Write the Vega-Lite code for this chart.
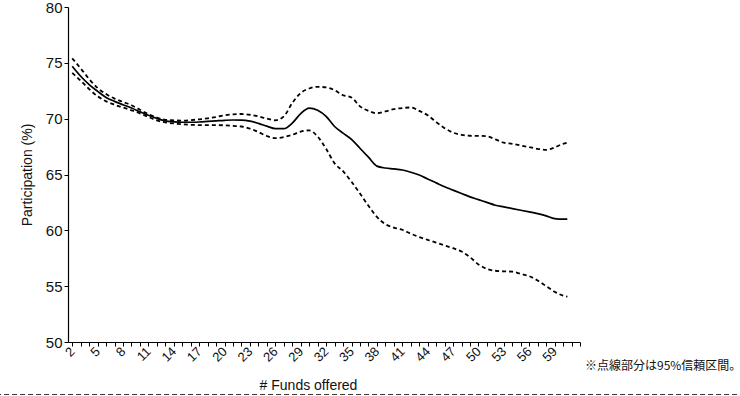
{
  "$schema": "https://vega.github.io/schema/vega-lite/v6.json",
  "width": 512,
  "height": 335,
  "autosize": {"type": "none"},
  "padding": {"left": 68, "top": 7, "right": 160, "bottom": 54},
  "background": "white",
  "config": {
    "view": {"stroke": null},
    "font": "Liberation Sans",
    "axis": {"domainColor": "#000", "tickColor": "#000", "labelColor": "#111", "titleColor": "#111", "grid": false, "labelFont": "Liberation Sans", "titleFont": "Liberation Sans", "titleFontWeight": "normal"}
  },
  "data": {
    "values": [
      {"n": 2, "est": 74.7, "lo": 74.1, "hi": 75.4},
      {"n": 3, "est": 73.8, "lo": 73.4, "hi": 74.5},
      {"n": 4, "est": 73.05, "lo": 72.65, "hi": 73.55},
      {"n": 5, "est": 72.45, "lo": 72.0, "hi": 72.75},
      {"n": 6, "est": 71.9, "lo": 71.55, "hi": 72.2},
      {"n": 7, "est": 71.55, "lo": 71.25, "hi": 71.8},
      {"n": 8, "est": 71.25, "lo": 71.0, "hi": 71.5},
      {"n": 9, "est": 70.95, "lo": 70.75, "hi": 71.2},
      {"n": 10, "est": 70.62, "lo": 70.48, "hi": 70.8},
      {"n": 11, "est": 70.3, "lo": 70.15, "hi": 70.4},
      {"n": 12, "est": 70.02, "lo": 69.85, "hi": 70.1},
      {"n": 13, "est": 69.8, "lo": 69.67, "hi": 69.9},
      {"n": 14, "est": 69.72, "lo": 69.57, "hi": 69.85},
      {"n": 15, "est": 69.68, "lo": 69.5, "hi": 69.82},
      {"n": 16, "est": 69.68, "lo": 69.45, "hi": 69.87},
      {"n": 17, "est": 69.7, "lo": 69.43, "hi": 69.94},
      {"n": 18, "est": 69.75, "lo": 69.43, "hi": 70.03},
      {"n": 19, "est": 69.8, "lo": 69.43, "hi": 70.15},
      {"n": 20, "est": 69.85, "lo": 69.4, "hi": 70.3},
      {"n": 21, "est": 69.88, "lo": 69.35, "hi": 70.38},
      {"n": 22, "est": 69.87, "lo": 69.3, "hi": 70.42},
      {"n": 23, "est": 69.78, "lo": 69.1, "hi": 70.35},
      {"n": 24, "est": 69.58, "lo": 68.8, "hi": 70.2},
      {"n": 25, "est": 69.33, "lo": 68.45, "hi": 70.0},
      {"n": 26, "est": 69.1, "lo": 68.25, "hi": 69.85},
      {"n": 27, "est": 69.1, "lo": 68.35, "hi": 70.2},
      {"n": 28, "est": 69.6, "lo": 68.55, "hi": 71.4},
      {"n": 29, "est": 70.45, "lo": 68.85, "hi": 72.3},
      {"n": 30, "est": 70.95, "lo": 68.95, "hi": 72.7},
      {"n": 31, "est": 70.75, "lo": 68.4, "hi": 72.85},
      {"n": 32, "est": 70.2, "lo": 67.3, "hi": 72.8},
      {"n": 33, "est": 69.3, "lo": 66.0, "hi": 72.55},
      {"n": 34, "est": 68.7, "lo": 65.3, "hi": 72.1},
      {"n": 35, "est": 68.15, "lo": 64.35, "hi": 71.9},
      {"n": 36, "est": 67.35, "lo": 63.3, "hi": 71.1},
      {"n": 37, "est": 66.55, "lo": 62.2, "hi": 70.7},
      {"n": 38, "est": 65.75, "lo": 61.2, "hi": 70.48},
      {"n": 39, "est": 65.58, "lo": 60.55, "hi": 70.65},
      {"n": 40, "est": 65.5, "lo": 60.25, "hi": 70.85},
      {"n": 41, "est": 65.4, "lo": 60.05, "hi": 70.95},
      {"n": 42, "est": 65.2, "lo": 59.7, "hi": 71.0},
      {"n": 43, "est": 64.95, "lo": 59.4, "hi": 70.7},
      {"n": 44, "est": 64.6, "lo": 59.15, "hi": 70.3},
      {"n": 45, "est": 64.25, "lo": 58.9, "hi": 69.7},
      {"n": 46, "est": 63.9, "lo": 58.65, "hi": 69.15},
      {"n": 47, "est": 63.6, "lo": 58.4, "hi": 68.75},
      {"n": 48, "est": 63.3, "lo": 58.1, "hi": 68.55},
      {"n": 49, "est": 63.0, "lo": 57.6, "hi": 68.47},
      {"n": 50, "est": 62.75, "lo": 56.95, "hi": 68.46},
      {"n": 51, "est": 62.5, "lo": 56.55, "hi": 68.42},
      {"n": 52, "est": 62.25, "lo": 56.38, "hi": 68.15},
      {"n": 53, "est": 62.1, "lo": 56.33, "hi": 67.85},
      {"n": 54, "est": 61.95, "lo": 56.3, "hi": 67.75},
      {"n": 55, "est": 61.8, "lo": 56.1, "hi": 67.6},
      {"n": 56, "est": 61.65, "lo": 55.9, "hi": 67.45},
      {"n": 57, "est": 61.5, "lo": 55.5, "hi": 67.3},
      {"n": 58, "est": 61.3, "lo": 55.0, "hi": 67.2},
      {"n": 59, "est": 61.05, "lo": 54.5, "hi": 67.42},
      {"n": 60, "est": 61.0, "lo": 54.15, "hi": 67.75},
      {"n": 60.5, "est": 61.0, "lo": 54.05, "hi": 67.85}
    ]
  },
  "layer": [
    {
      "mark": {"type": "line", "color": "#000", "strokeWidth": 1.8, "strokeDash": [4, 3], "interpolate": "monotone"},
      "encoding": {
        "x": {
          "field": "n", "type": "quantitative",
          "scale": {"domain": [1.5, 62], "nice": false, "zero": false},
          "axis": {
            "title": "# Funds offered",
            "titleFontSize": 14,
            "titleX": 240,
            "titleY": 47,
            "titleBaseline": "alphabetic",
            "values": [2,3,4,5,6,7,8,9,10,11,12,13,14,15,16,17,18,19,20,21,22,23,24,25,26,27,28,29,30,31,32,33,34,35,36,37,38,39,40,41,42,43,44,45,46,47,48,49,50,51,52,53,54,55,56,57,58,59,60,61,62],
            "tickCount": 500,
            "format": "d",
            "labelExpr": "((datum.value - 2) % 3 === 0 && datum.value <= 59) ? datum.label : ''",
            "labelAngle": -45,
            "labelAlign": "right",
            "labelBaseline": "middle",
            "labelFontSize": 13,
            "labelPadding": 3,
            "labelOverlap": false,
            "labelBound": false,
            "labelFlush": false,
            "tickSize": 4,
            "domainWidth": 1.2
          }
        },
        "y": {
          "field": "hi", "type": "quantitative",
          "scale": {"domain": [50, 80], "nice": false, "zero": false},
          "axis": {
            "title": "Participation (%)",
            "titleFontSize": 14,
            "titlePadding": 11,
            "values": [50, 55, 60, 65, 70, 75, 80],
            "labelFontSize": 15,
            "labelPadding": 2,
            "tickSize": 4,
            "domainWidth": 1.2
          }
        }
      }
    },
    {
      "mark": {"type": "line", "color": "#000", "strokeWidth": 1.8, "strokeDash": [4, 3], "interpolate": "monotone"},
      "encoding": {
        "x": {"field": "n", "type": "quantitative"},
        "y": {"field": "lo", "type": "quantitative"}
      }
    },
    {
      "mark": {"type": "line", "color": "#000", "strokeWidth": 1.7, "interpolate": "monotone"},
      "encoding": {
        "x": {"field": "n", "type": "quantitative"},
        "y": {"field": "est", "type": "quantitative"}
      }
    },
    {
      "data": {"values": [{"note": "※点線部分は95%信頼区間。"}]},
      "mark": {"type": "text", "font": "Noto Sans CJK JP", "fontSize": 12, "align": "left", "baseline": "middle", "dx": 5, "color": "#111"},
      "encoding": {
        "x": {"datum": 62},
        "y": {"datum": 47.85},
        "text": {"field": "note"}
      }
    },
    {
      "data": {"values": [{}]},
      "mark": {"type": "rule", "color": "#333", "strokeWidth": 1, "strokeDash": [5, 3]},
      "encoding": {
        "x": {"datum": -7},
        "x2": {"datum": 82},
        "y": {"datum": 45.3}
      }
    }
  ]
}
